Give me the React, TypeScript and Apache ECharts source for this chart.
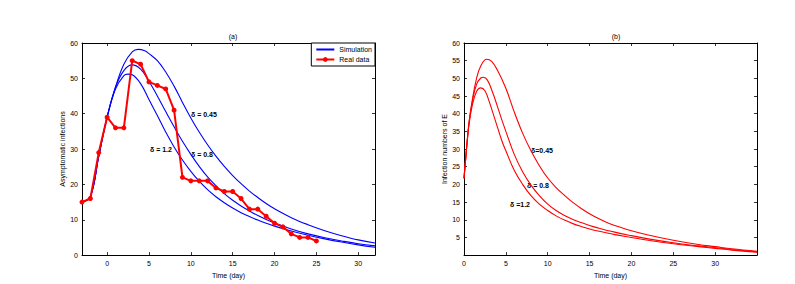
import React, { useEffect, useRef } from "react";
import * as echarts from "echarts";

// ---- Panel (a) data ----
const realDays = [-3, -2, -1, 0, 1, 2, 3, 4, 5, 6, 7, 8, 9, 10, 11, 12, 13, 14, 15, 16, 17, 18, 19, 20, 21, 22, 23, 24, 25];
const realCases = [15, 16, 29, 39, 36, 36, 55, 54, 49, 48, 47, 41, 22, 21, 21, 21, 19, 18, 18, 16, 13, 13, 11, 9, 8, 6, 5, 5, 4];

const simA045X = [-3, -2, -1, 0, 1, 2, 3, 3.7, 4.5, 5, 6, 7, 8, 9, 10, 11, 12, 13, 14, 15, 16, 17, 18, 19, 20, 22, 24, 26, 28, 30, 32];
const simA045Y = [15, 16.5, 28, 39, 47.5, 54, 57.5, 58.2, 57.8, 57, 55, 51.8, 47.8, 43.2, 38.8, 34.8, 31.2, 28, 25.1, 22.5, 20.2, 18.1, 16.3, 14.6, 13.1, 10.6, 8.6, 6.9, 5.5, 4.3, 3.4];

const simA08X = [-3, -2, -1, 0, 1, 2, 3, 4, 5, 6, 7, 8, 9, 10, 11, 12, 13, 14, 15, 16, 17, 18, 19, 20, 22, 24, 26, 28, 30, 32];
const simA08Y = [15, 16.5, 28, 39, 47.5, 52.2, 53.8, 52.6, 49.2, 45, 40.6, 36.3, 32.2, 28.5, 25.1, 22.1, 19.6, 17.4, 15.5, 13.9, 12.5, 11.2, 10.1, 9.1, 7.4, 6, 4.9, 4, 3.2, 2.6];

const simA12X = [-3, -2, -1, 0, 1, 2, 2.5, 3, 4, 5, 6, 7, 8, 9, 10, 11, 12, 13, 14, 15, 16, 17, 18, 19, 20, 22, 24, 26, 28, 30, 32];
const simA12Y = [15, 16.5, 28, 39, 47, 50.8, 51.2, 51, 48.5, 44, 39.5, 34.8, 30.6, 26.9, 23.7, 20.9, 18.5, 16.5, 14.8, 13.3, 12, 10.9, 9.9, 9, 8.2, 6.8, 5.6, 4.6, 3.7, 2.9, 2.2];

// ---- Panel (b) data ----
const eB045X = [0, 0.3, 0.6, 1, 1.5, 2, 2.7, 3.3, 4, 5, 6, 7, 8, 9, 10, 11, 12, 13, 14, 15, 16, 17, 18, 20, 22, 25, 28, 30, 32, 35];
const eB045Y = [21.7, 30, 37.5, 44, 50, 53.5, 55.4, 54.8, 52.3, 47.2, 40.5, 34.5, 29.5, 25.3, 21.8, 19.1, 16.9, 14.9, 13.2, 11.7, 10.4, 9.3, 8.4, 6.9, 5.7, 4.2, 3, 2.4, 1.8, 1.1];

const eB08X = [0, 0.3, 0.6, 1, 1.5, 2, 2.3, 2.8, 3.5, 4, 4.5, 5, 6, 7, 8, 9, 10, 11, 12, 13, 14, 15, 16, 18, 20, 22, 25, 28, 30, 32, 35];
const eB08Y = [21.7, 30, 37.5, 43.5, 48.3, 50.1, 50.3, 49.5, 45.5, 42, 38.4, 35, 28.5, 23.6, 19.8, 16.8, 14.4, 12.6, 11.2, 10.1, 9.2, 8.4, 7.7, 6.5, 5.5, 4.6, 3.5, 2.6, 2.1, 1.6, 0.9];

const eB12X = [0, 0.3, 0.6, 1, 1.5, 2, 2.5, 3, 3.7, 4.5, 5, 6, 7, 8, 9, 10, 11, 12, 13, 14, 15, 16, 18, 20, 22, 25, 28, 30, 32, 35];
const eB12Y = [21.7, 30, 37, 42.5, 46.3, 47.3, 46.5, 43.5, 38.4, 32.5, 29.5, 24, 20, 16.8, 14.4, 12.6, 11.1, 9.9, 8.9, 8.1, 7.4, 6.8, 5.8, 5, 4.2, 3.2, 2.4, 1.9, 1.4, 0.8];

const xTicksA = [0, 5, 10, 15, 20, 25, 30];
const xTicksB = [0, 5, 10, 15, 20, 25, 30];

const zip = (xs: number[], ys: number[]) => xs.map((x, i) => [x, ys[i]]);

const FONT = "Liberation Sans";
const txt = { fontFamily: FONT, fontSize: 7, color: "#000000" };

export default function App() {
  const ref = useRef<HTMLDivElement>(null);
  useEffect(() => {
    if (!ref.current) return;
    const chart = echarts.init(ref.current, undefined, { renderer: "svg" });
    const line = { lineStyle: { color: "#000", width: 1 } };
    const tickIn = { show: true, inside: true, length: 3, lineStyle: { color: "#000", width: 0.8 } };
    const mkX = (grid: number, min: number, max: number, ticks: number[], top: boolean, name?: string) => ({
      type: "value",
      gridIndex: grid,
      min,
      max,
      position: top ? "top" : "bottom",
      axisLine: { ...line, onZero: false },
      axisTick: { ...tickIn, customValues: ticks },
      axisLabel: top ? { show: false } : { ...txt, margin: 5, customValues: ticks },
      splitLine: { show: false },
      name: name || "",
      nameLocation: "middle",
      nameGap: 13,
      nameTextStyle: { ...txt },
    });
    const mkY = (grid: number, interval: number, right: boolean, hideZero: boolean, name?: string) => ({
      type: "value",
      gridIndex: grid,
      min: 0,
      max: 60,
      interval,
      position: right ? "right" : "left",
      axisLine: { ...line, onZero: false },
      axisTick: tickIn,
      axisLabel: right
        ? { show: false }
        : { ...txt, margin: 4, formatter: (v: number) => (hideZero && v === 0 ? "" : String(v)) },
      splitLine: { show: false },
      name: name || "",
      nameLocation: "middle",
      nameGap: 11,
      nameTextStyle: { ...txt },
    });
    const blue = (name: string, xs: number[], ys: number[]) => ({
      type: "line",
      name,
      xAxisIndex: 0,
      yAxisIndex: 0,
      data: zip(xs, ys),
      smooth: 0.4,
      symbol: "none",
      lineStyle: { color: "#0000ff", width: 1.1 },
      itemStyle: { color: "#0000ff" },
      z: 2,
    });
    const red = (name: string, xs: number[], ys: number[]) => ({
      type: "line",
      name,
      xAxisIndex: 2,
      yAxisIndex: 2,
      data: zip(xs, ys),
      smooth: 0.4,
      symbol: "none",
      lineStyle: { color: "#ff0000", width: 1.1 },
      z: 2,
    });
    chart.setOption({
      animation: false,
      backgroundColor: "#fff",
      title: [
        { text: "(a)", left: 228, top: 28, textAlign: "center", textStyle: { ...txt, fontWeight: "normal" } },
        { text: "(b)", left: 611, top: 28, textAlign: "center", textStyle: { ...txt, fontWeight: "normal" } },
      ],
      grid: [
        { left: 82, top: 43, width: 293, height: 215 },
        { left: 464, top: 43, width: 293, height: 215 },
      ],
      xAxis: [
        mkX(0, -3, 32, xTicksA, false, "Time (day)"),
        mkX(0, -3, 32, xTicksA, true),
        mkX(1, 0, 35, xTicksB, false, "Time (day)"),
        mkX(1, 0, 35, xTicksB, true),
      ],
      yAxis: [
        mkY(0, 10, false, false, "Asymptomatic infections"),
        mkY(0, 10, true, false),
        mkY(1, 5, false, true, "Infection numbers of E"),
        mkY(1, 5, true, true),
      ],
      legend: {
        data: [
          { name: "Simulation", itemStyle: { opacity: 0 } },
          { name: "Real data" },
        ],
        orient: "vertical",
        right: 420,
        top: 43,
        padding: [3, 3, 3, 4],
        itemGap: 3,
        itemWidth: 18,
        itemHeight: 6,
        borderColor: "#000",
        borderWidth: 1,
        borderRadius: 0,
        backgroundColor: "#fff",
        textStyle: { ...txt },
      },
      series: [
        blue("Simulation", simA045X, simA045Y),
        blue("Simulation", simA08X, simA08Y),
        blue("Simulation", simA12X, simA12Y),
        {
          type: "line",
          name: "Real data",
          xAxisIndex: 0,
          yAxisIndex: 0,
          data: zip(realDays, realCases),
          symbol: "circle",
          symbolSize: 5,
          lineStyle: { color: "#ff0000", width: 2 },
          itemStyle: { color: "#ff0000" },
          z: 3,
        },
        red("E 0.45", eB045X, eB045Y),
        red("E 0.8", eB08X, eB08Y),
        red("E 1.2", eB12X, eB12Y),
      ],
      graphic: [
        { type: "text", x: 191, y: 111, style: { text: "δ = 0.45", font: `bold 7px ${FONT}`, fill: "#000" } },
        { type: "text", x: 150, y: 146, style: { text: "δ = 1.2", font: `bold 7px ${FONT}`, fill: "#000" } },
        { type: "text", x: 191, y: 151, style: { text: "δ = 0.8", font: `bold 7px ${FONT}`, fill: "#000" } },
        { type: "text", x: 531, y: 147, style: { text: "δ=0.45", font: `bold 7px ${FONT}`, fill: "#000" } },
        { type: "text", x: 527, y: 182, style: { text: "δ = 0.8", font: `bold 7px ${FONT}`, fill: "#000" } },
        { type: "text", x: 510, y: 201, style: { text: "δ =1.2", font: `bold 7px ${FONT}`, fill: "#000" } },
      ],
    });
    return () => chart.dispose();
  }, []);
  return <div ref={ref} style={{ position: "fixed", left: 0, top: 0, width: 795, height: 284 }} />;
}
